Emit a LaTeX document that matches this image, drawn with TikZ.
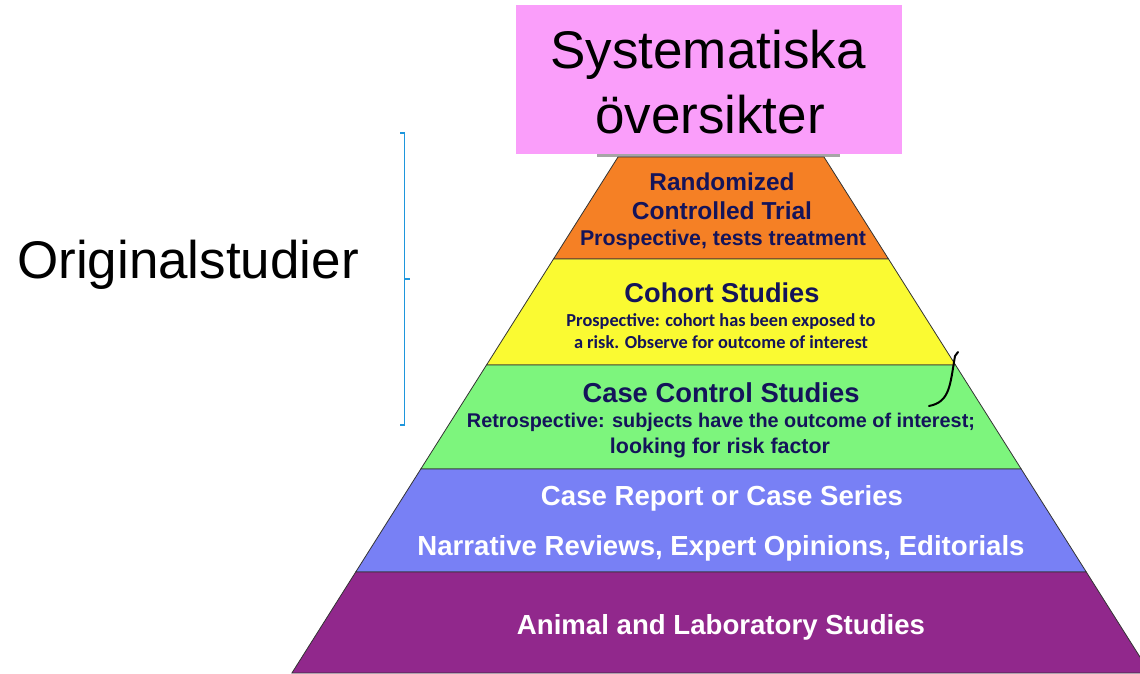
\documentclass[tikz,border=0pt]{standalone}
\usepackage{graphicx}
\usepackage{fontspec}
\setmainfont{Liberation Sans}
\newfontfamily\calib{Carlito}
\definecolor{pinkbox}{RGB}{250,158,250}
\definecolor{orangeband}{RGB}{245,128,37}
\definecolor{yellowband}{RGB}{250,250,50}
\definecolor{greenband}{RGB}{125,245,125}
\definecolor{blueband}{RGB}{120,128,245}
\definecolor{purpleband}{RGB}{145,40,140}
\definecolor{navytext}{RGB}{20,20,90}
\definecolor{bracketblue}{RGB}{30,150,220}
\newcommand{\fitw}[2]{\resizebox{#1pt}{!}{#2}}
\tikzset{
  band/.style={draw=black!80, line width=0.8pt},
  ptext/.style={anchor=base, inner sep=0pt, text=navytext, font=\bfseries},
  wtext/.style={anchor=base, inner sep=0pt, text=white, font=\bfseries},
  bigtext/.style={anchor=base, inner sep=0pt, text=black, font=\fontsize{53}{60}\selectfont},
}
\begin{document}
\begin{tikzpicture}[x=1pt,y=-1pt]
\useasboundingbox (0,0) rectangle (1140,673);
% gray sliver under the pink box
\fill[gray!70] (597,150) rectangle (840,157);
% pyramid bands
\filldraw[band, fill=orangeband] (618,157) -- (824,157) -- (888.5,259) -- (553.5,259) -- cycle;
\filldraw[band, fill=yellowband] (553.5,259) -- (888.5,259) -- (955.5,365) -- (486.5,365) -- cycle;
\filldraw[band, fill=greenband] (486.5,365) -- (955.5,365) -- (1021.2,469) -- (420.8,469) -- cycle;
\filldraw[band, fill=blueband] (420.8,469) -- (1021.2,469) -- (1086.3,572) -- (355.7,572) -- cycle;
\filldraw[band, fill=purpleband] (355.7,572) -- (1086.3,572) -- (1150.1,673) -- (291.9,673) -- cycle;
% pink box
\node[fill=pinkbox, minimum width=386pt, minimum height=149pt, inner sep=0pt, anchor=north west] (sysbox) at (516,5) {};
\node[bigtext] (sys1) at (708,68) {Systematiska};
\node[bigtext] (sys2) at (710,133) {översikter};
% left label
\node[bigtext] (orig) at (188,278) {Originalstudier};
% bracket
\draw[bracketblue, line width=1.8pt] (400,133) -- (404.5,133) -- (404.5,425) -- (400,425);
\draw[bracketblue, line width=1.8pt] (404.5,279) -- (410,279);
% orange texts
\node[ptext] (rct1) at (722,190) {\fitw{145}{Randomized}};
\node[ptext] (rct2) at (722,219) {\fitw{180}{Controlled Trial}};
\node[ptext] (rct3) at (723,245) {\fitw{286}{Prospective, tests treatment}};
% yellow texts
\node[ptext] (coh1) at (722,302) {\fitw{195}{Cohort Studies}};
\node[ptext, font=\calib\bfseries] (coh2) at (721,326) {\fitw{309}{Prospective: cohort has been exposed to}};
\node[ptext, font=\calib\bfseries] (coh3) at (721,348) {\fitw{294}{a risk. Observe for outcome of interest}};
% green texts
\node[ptext] (cc1) at (721,402) {\fitw{277}{Case Control Studies}};
\node[ptext] (cc2) at (721,427) {\fitw{508}{Retrospective: subjects have the outcome of interest;}};
\node[ptext] (cc3) at (720,453) {\fitw{220}{looking for risk factor}};
% blue texts
\node[wtext] (cr1) at (722,505) {\fitw{362}{Case Report or Case Series}};
\node[wtext] (cr2) at (721,555) {\fitw{607}{Narrative Reviews, Expert Opinions, Editorials}};
% purple text
\node[wtext] (an1) at (721,634) {\fitw{408}{Animal and Laboratory Studies}};
% black hand-drawn curve
\draw[black, line width=2pt, line cap=round] (958,352) -- (955,356) .. controls (950,385) and (950,402) .. (929,406);
\end{tikzpicture}
\end{document}
